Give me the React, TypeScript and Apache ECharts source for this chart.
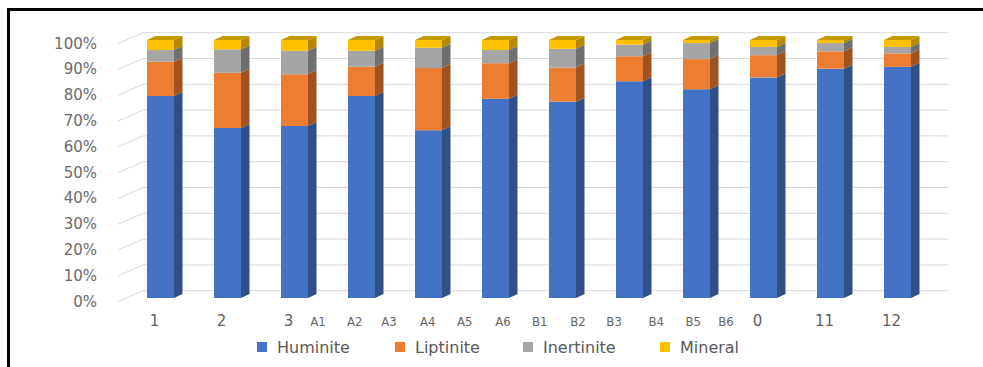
import React, { useEffect, useRef } from "react";
import * as echarts from "echarts";

const categories = ["1", "2", "3", "4", "5", "6", "7", "8", "9", "10", "11", "12"];
const tickLabels = ["1", "2", "3", "", "", "", "", "", "", "0", "11", "12"];
const sideLabels = ["A1", "A2", "A3", "A4", "A5", "A6", "B1", "B2", "B3", "B4", "B5", "B6"];
const sideLabelPos = [2.85, 3.4, 3.91, 4.49, 5.04, 5.61, 6.16, 6.73, 7.27, 7.9, 8.45, 8.94];
const yTicks = [0, 10, 20, 30, 40, 50, 60, 70, 80, 90, 100];

const seriesNames = ["Huminite", "Liptinite", "Inertinite", "Mineral"];
const huminite = [78.3, 65.9, 66.7, 78.3, 65.0, 77.2, 76.1, 84.0, 80.9, 85.5, 88.9, 89.6];
const liptinite = [13.3, 21.4, 20.0, 11.3, 24.1, 13.8, 13.2, 9.7, 11.7, 8.6, 6.7, 5.2];
const inertinite = [4.5, 9.1, 9.1, 6.2, 7.9, 5.1, 7.3, 4.5, 6.2, 3.2, 3.2, 2.5];
const mineral = [3.9, 3.6, 4.2, 4.2, 3.0, 3.9, 3.4, 1.8, 1.2, 2.7, 1.2, 2.7];

const frontColors = ["#4472c4", "#ed7d31", "#a5a5a5", "#ffc000"];
const sideColors = ["#2f4f86", "#a0521f", "#6f6f6f", "#b58800"];
const topColor = "#c49a00";
const legendLefts = [257, 395, 523, 660];

const BAR_W = 27;
const DX = 8.5;
const DY = -4;

export default function App() {
  const ref = useRef<HTMLDivElement>(null);
  useEffect(() => {
    if (!ref.current) return;
    const chart = echarts.init(ref.current, null, { renderer: "svg" });
    const values = [huminite, liptinite, inertinite, mineral];
    const stackData = categories.map((_, i) => [i, huminite[i], liptinite[i], inertinite[i], mineral[i]]);

    const option: any = {
      animation: false,
      backgroundColor: "#ffffff",
      grid: [
        { left: 127, right: 52, top: 40, bottom: 69, containLabel: false },
        { left: 127, right: 52, top: 43.5, bottom: 65.5, containLabel: false },
      ],
      xAxis: [
        {
          type: "category",
          gridIndex: 0,
          data: categories,
          axisLine: { show: false },
          axisTick: { show: false },
          axisLabel: {
            interval: 0,
            margin: 15,
            padding: [0, 12, 0, 0],
            color: "#5f5f5f",
            fontFamily: "DejaVu Sans",
            fontSize: 15,
            formatter: (_v: string, idx: number) => tickLabels[idx],
          },
        },
        {
          type: "value",
          gridIndex: 0,
          position: "bottom",
          min: 0,
          max: 12,
          axisLine: { show: false },
          axisTick: { show: false },
          splitLine: { show: false },
          axisLabel: {
            customValues: sideLabelPos,
            margin: 17,
            color: "#666666",
            fontFamily: "Liberation Sans Narrow, DejaVu Sans Condensed, sans-serif",
            fontSize: 13,
            formatter: (v: number) => {
              const k = sideLabelPos.findIndex((p) => Math.abs(p - v) < 1e-6);
              return k >= 0 ? sideLabels[k] : "";
            },
          },
        },
        {
          type: "category",
          gridIndex: 1,
          data: categories,
          show: false,
        },
      ],
      yAxis: [
        {
          type: "value",
          gridIndex: 0,
          min: 0,
          max: 100,
          interval: 10,
          axisLine: { show: false },
          axisTick: { show: false },
          splitLine: { show: false },
          axisLabel: { show: false },
        },
        {
          type: "value",
          gridIndex: 1,
          min: 0,
          max: 100,
          interval: 10,
          axisLine: { show: false },
          axisTick: { show: false },
          splitLine: { show: false },
          axisLabel: {
            margin: 30,
            color: "#6b6b6b",
            fontFamily: "DejaVu Sans",
            fontSize: 15,
            formatter: "{value}%",
          },
        },
      ],
      legend: seriesNames.map((n, k) => ({
        data: [n],
        left: legendLefts[k],
        top: 339,
        icon: "rect",
        itemWidth: 10,
        itemHeight: 10,
        itemGap: 0,
        padding: 0,
        selectedMode: false,
        textStyle: {
          color: "#595959",
          fontFamily: "DejaVu Sans",
          fontSize: 16,
          padding: [0, 0, 0, 5],
        },
      })),
      graphic: [
        { type: "line", shape: { x1: 7, y1: 9.5, x2: 983, y2: 9.5 }, style: { stroke: "#000", lineWidth: 3 } },
        { type: "line", shape: { x1: 8.5, y1: 8, x2: 8.5, y2: 367 }, style: { stroke: "#000", lineWidth: 3 } },
      ],
      series: [
        {
          type: "custom",
          name: "grid3d",
          silent: true,
          z: 0,
          xAxisIndex: 0,
          yAxisIndex: 0,
          data: yTicks.map((v) => [0, v]),
          renderItem: (params: any, api: any) => {
            const cs = params.coordSys;
            const y = api.coord([0, api.value(1)])[1];
            return {
              type: "polyline",
              shape: {
                points: [
                  [cs.x - 9, y + 3.7],
                  [cs.x + 16, y - 7.3],
                  [cs.x + cs.width + 17, y - 7.3],
                ],
              },
              style: { stroke: "#d9d9d9", lineWidth: 1, fill: "none" },
            };
          },
        },
        ...seriesNames.map((n, k) => ({
          type: "bar",
          name: n,
          stack: "total",
          xAxisIndex: 0,
          yAxisIndex: 0,
          barWidth: BAR_W,
          itemStyle: { color: frontColors[k] },
          data: values[k],
          z: 3,
        })),
        {
          type: "custom",
          name: "faces3d",
          silent: true,
          z: 3,
          xAxisIndex: 0,
          yAxisIndex: 0,
          data: stackData,
          renderItem: (_params: any, api: any) => {
            const i = api.value(0);
            const vals = [api.value(1), api.value(2), api.value(3), api.value(4)];
            const hw = BAR_W / 2;
            let cum = 0;
            const children: any[] = [];
            let topY = 0;
            let cx = 0;
            for (let k = 0; k < 4; k++) {
              const p0 = api.coord([i, cum]);
              cum += vals[k];
              const p1 = api.coord([i, cum]);
              const xr = p0[0] + hw;
              children.push({
                type: "polygon",
                shape: {
                  points: [
                    [xr, p0[1]],
                    [xr + DX, p0[1] + DY],
                    [xr + DX, p1[1] + DY],
                    [xr, p1[1]],
                  ],
                },
                style: { fill: sideColors[k] },
              });
              topY = p1[1];
              cx = p1[0];
            }
            children.push({
              type: "polygon",
              shape: {
                points: [
                  [cx - hw, topY],
                  [cx - hw + DX, topY + DY],
                  [cx + hw + DX, topY + DY],
                  [cx + hw, topY],
                ],
              },
              style: { fill: topColor },
            });
            return { type: "group", children };
          },
        },
      ],
    };
    chart.setOption(option);
    return () => chart.dispose();
  }, []);

  return (
    <div
      ref={ref}
      style={{ position: "fixed", left: 0, top: 0, width: 983, height: 367, background: "#fff" }}
    />
  );
}
